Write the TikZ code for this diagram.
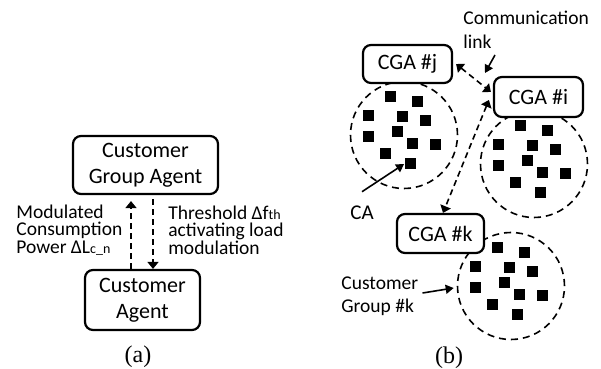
\documentclass[tikz,border=0pt]{standalone}
\usepackage{fontspec}
\setmainfont{Carlito}
\newfontfamily\capfont{Liberation Serif}
\usetikzlibrary{arrows.meta}

\begin{document}
\begin{tikzpicture}[x=0.5pt,y=-0.5pt,>={Triangle[width=5.5pt,length=3.5pt]}]
   \useasboundingbox (0,0) rectangle (601,369);
   \tikzstyle{agent}=[draw=black, line width=1.1pt, rounded corners=4pt, fill=white, align=center, inner sep=0pt, font=\fontsize{11}{13}\selectfont]
   \tikzstyle{link}=[dash pattern=on 3pt off 2pt, line width=0.8pt]
   \tikzstyle{pointer}=[->, >={Triangle[width=4.5pt,length=4pt]}, line width=0.8pt]
   \tikzstyle{group}=[circle, draw=black, dash pattern=on 3.5pt off 2.5pt, line width=0.8pt, inner sep=0pt, minimum size=53.5pt]
   \tikzstyle{cust}=[fill=black, minimum size=5.5pt, inner sep=0pt]
   \tikzstyle{note}=[align=left, inner sep=0pt, font=\fontsize{9.75}{8.75}\selectfont]
   \tikzstyle{tag}=[align=left, inner sep=0pt, font=\fontsize{9.75}{12}\selectfont]
   \tikzstyle{caption}=[font=\capfont\fontsize{12}{14}\selectfont]
   % (a) one customer group agent and one customer agent
   \node[agent, minimum width=72.5pt, minimum height=29pt] (cga) at (145.5,165) {Customer\\Group Agent};
   \node[agent, minimum width=57.5pt, minimum height=30pt] (ca) at (142.5,300) {Customer\\Agent};
   \draw[link, ->] ([xshift=-5.75pt]ca.north) -- ([xshift=-7.25pt,yshift=-3pt]cga.south);
   \draw[link, ->] ([xshift=3.75pt,yshift=-2pt]cga.south) -- ([xshift=5.25pt]ca.north);
   \node[note, anchor=west] (power) at (16,230) {Modulated\\Consumption\\Power ΔL{\fontsize{7}{8}\selectfont c\_n}};
   \node[note, anchor=west] (threshold) at (168,230) {Threshold Δf{\fontsize{7}{8}\selectfont th}\\activating load\\modulation};
   \node[caption] (capa) at (138,357) {(a)};
   % (b) customer groups, each with its CGA
   \foreach \g/\x/\y in {j/390/97, i/520/126, k/497/248} {
      \node[group] (grp\g) at (\x+14,\y+38) {};
      \foreach \n/\dx/\dy in {1/0/0, 2/27/5, 3/-22/19, 4/12/20, 5/35/24, 6/-22/40, 7/7/35, 8/22/47, 9/45/48, 10/-5/57, 11/20/67}
         \node[cust] (\g\n) at (\x+\dx,\y+\dy) {};
   }
   \node[agent, minimum width=44.5pt, minimum height=19pt] (cgaj) at (407.5,64) {CGA \#j};
   \node[agent, minimum width=44.5pt, minimum height=20pt] (cgai) at (538.5,97) {CGA \#i};
   \node[agent, minimum width=43.5pt, minimum height=19.5pt] (cgak) at (440.5,233.5) {CGA \#k};
   \draw[link, <->] ([xshift=1.5pt]cgaj.east) -- ([xshift=-1pt,yshift=2.5pt]cgai.west);
   \draw[link, <->] ([xshift=-2pt,yshift=-1.5pt]cgai.west) -- ([xshift=1.25pt]cgak.north);
   % labels
   \node[tag, anchor=south west] (comm) at (463,49) {Communication\\link};
   \coordinate (linkpt) at (485,73);
   \draw[pointer] ([xshift=16pt,yshift=-3pt]comm.south west) -- (linkpt);
   \node[tag, font=\fontsize{10.5}{12}\selectfont] (calbl) at (362,213) {CA};
   \draw[pointer] ([yshift=7pt]calbl.north) -- (j11.west);
   \node[tag, anchor=west, font=\fontsize{9.75}{11.5}\selectfont] (grplbl) at (341,296) {Customer\\Group \#k};
   \draw[pointer] ([xshift=2pt,yshift=1.5pt]grplbl.east) -- ([xshift=-1.5pt,yshift=-1pt]grpk.west);
   \node[caption] (capb) at (449,358) {(b)};
\end{tikzpicture}
\end{document}
